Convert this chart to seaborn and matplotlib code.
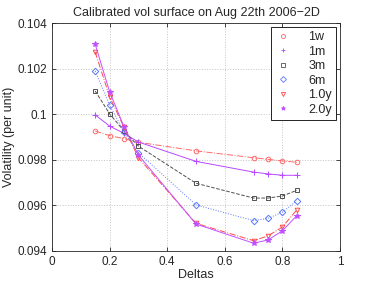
import numpy
import pandas
import seaborn as sea
from matplotlib import pyplot

deltas = [0.15, 0.2, 0.25, 0.3, 0.5, 0.7, 0.75, 0.8, 0.85]
tenors = ["1w", "1m", "3m", "6m", "1.0y", "2.0y"]
vol_1w = [0.09926, 0.09906, 0.09893, 0.09877, 0.09839, 0.09809, 0.09802, 0.09795, 0.09789]
vol_1m = [0.09997, 0.09948, 0.09916, 0.09878, 0.09793, 0.09746, 0.09738, 0.09732, 0.09732]
vol_3m = [0.10102, 0.10002, 0.09926, 0.09860, 0.09697, 0.09632, 0.09632, 0.09641, 0.09666]
vol_6m = [0.10189, 0.10039, 0.09923, 0.09831, 0.09602, 0.09533, 0.09543, 0.09570, 0.09619]
vol_1y = [0.10273, 0.10077, 0.09943, 0.09809, 0.09521, 0.09445, 0.09466, 0.09505, 0.09580]
vol_2y = [0.10307, 0.10099, 0.09945, 0.09821, 0.09518, 0.09434, 0.09448, 0.09488, 0.09555]

styles = {
    "1w": ("#ff6a6a", "o", "-."),
    "1m": ("#b848ff", "+", "-"),
    "3m": ("#505050", "s", "--"),
    "6m": ("#5a78ff", "D", ":"),
    "1.0y": ("#ff4a4a", "v", "-."),
    "2.0y": ("#c050ff", "*", "-"),
}

sea.set_style("ticks")
pyplot.rcParams["font.family"] = ["Liberation Sans", "DejaVu Sans"]

figure = pyplot.figure(figsize=(3.74, 2.81), dpi=100)
axis = figure.add_axes([0.139, 0.107, 0.770, 0.811])

series = [vol_1w, vol_1m, vol_3m, vol_6m, vol_1y, vol_2y]
for name, values in zip(tenors, series):
    color, marker, ls = styles[name]
    frame = pandas.DataFrame({"Deltas": deltas, "vol": values})
    sea.lineplot(
        data=frame, x="Deltas", y="vol", ax=axis, color=color,
        marker=marker, linestyle=ls, linewidth=0.7,
        markersize=4 if marker in "+*" else 3.3,
        markerfacecolor="none" if marker not in "+*" else color,
        markeredgecolor=color, markeredgewidth=0.7, label=name,
        legend=False,
    )

axis.set_xlim(0, 1)
axis.set_ylim(0.094, 0.104)
axis.set_xticks(numpy.arange(0, 1.01, 0.2))
axis.set_xticklabels(["0", "0.2", "0.4", "0.6", "0.8", "1"])
axis.set_yticks([0.094, 0.096, 0.098, 0.1, 0.102, 0.104])
axis.set_yticklabels(["0.094", "0.096", "0.098", "0.1", "0.102", "0.104"])
axis.tick_params(direction="in", length=3, labelsize=8.5, width=0.6)
axis.tick_params(top=True, right=True)
axis.grid(True, linestyle=":", color="#c4c4c4", linewidth=0.7)
for spine in axis.spines.values():
    spine.set_linewidth(0.6)
    spine.set_visible(True)

axis.set_xlabel("Deltas", fontsize=9, labelpad=1)
axis.set_ylabel("Volatility (per unit)", fontsize=9, labelpad=2)
axis.set_title("Calibrated vol surface on Aug 22th 2006\u22122D", fontsize=9, pad=5)

handles = [
    pyplot.Line2D([], [], color=styles[n][0], marker=styles[n][1], linestyle="none",
                  markersize=3, markeredgewidth=0.6,
                  markerfacecolor="none" if styles[n][1] not in "+*" else styles[n][0])
    for n in tenors
]
legend = axis.legend(
    handles, tenors, loc="upper right", fontsize=9, frameon=True,
    fancybox=False, edgecolor="black", framealpha=1, borderaxespad=0.3,
    handlelength=1.2, handletextpad=1.4, labelspacing=0.2, borderpad=0.35,
)
legend.get_frame().set_linewidth(0.6)

figure.savefig("out.png", dpi=100)
